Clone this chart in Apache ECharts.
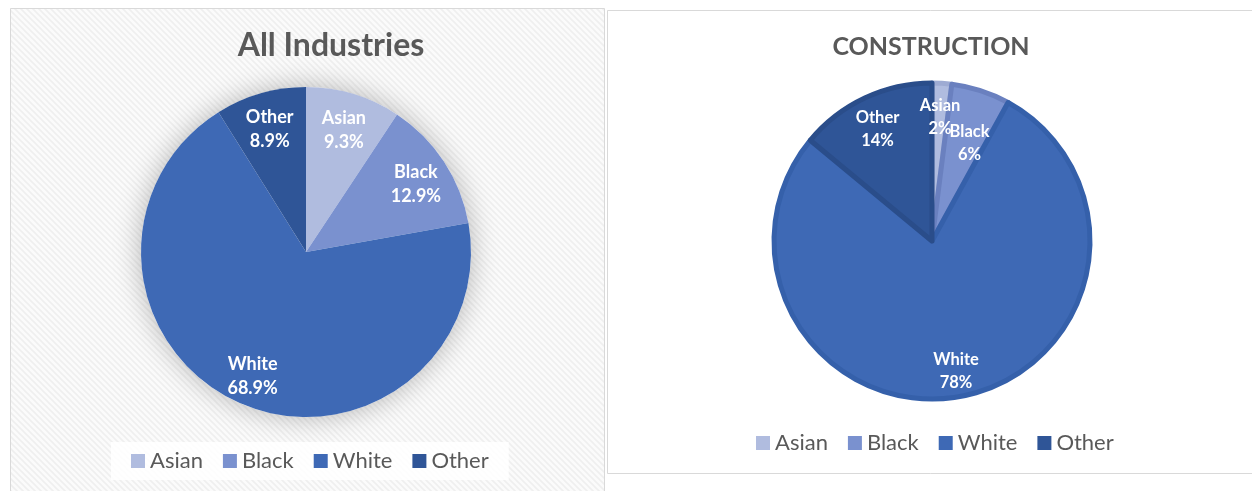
<!DOCTYPE html>
<html>
<head>
<meta charset="utf-8">
<script src="https://cdn.jsdelivr.net/npm/echarts@6/dist/echarts.min.js"></script>
<style>
  html, body { margin: 0; padding: 0; background: #ffffff; }
  #chart { width: 1252px; height: 491px; }
</style>
</head>
<body>
<div id="chart"></div>
<script>
// Workforce share by race: all industries vs. construction
const categories = ['Asian', 'Black', 'White', 'Other'];
const allIndustriesShare = [9.3, 12.9, 68.9, 8.9];
const constructionShare = [2, 6, 78, 14];

const sliceColors = ['#b0bcdf', '#7a91cf', '#3e69b5', '#2f5597'];
const sliceEdges = ['#9eabd3', '#6a80bf', '#3560aa', '#2a4d8a'];
const FONT = 'Lato, "Open Sans", sans-serif';

// faint diagonal hatch used behind the left panel
function hatchPattern() {
  const c = document.createElement('canvas');
  c.width = 6; c.height = 6;
  const g = c.getContext('2d');
  g.fillStyle = '#fbfbfb';
  g.fillRect(0, 0, 6, 6);
  g.strokeStyle = '#efefef';
  g.lineWidth = 1.6;
  g.beginPath();
  g.moveTo(-1, -1); g.lineTo(7, 7);
  g.moveTo(-1, 5); g.lineTo(1, 7);
  g.moveTo(5, -1); g.lineTo(7, 1);
  g.stroke();
  return { image: c, repeat: 'repeat' };
}

function pieData(values, edges) {
  return categories.map((name, i) => ({
    name,
    value: values[i],
    itemStyle: edges
      ? { color: sliceColors[i], borderColor: edges[i], borderWidth: 5, borderJoin: 'round' }
      : { color: sliceColors[i] }
  }));
}

// transparent ring that only carries the slice labels, so they sit
// about three quarters of the way out from the centre
function labelRing(center, inner, outer, values, fmt, size, lh, tweak) {
  return {
    type: 'pie',
    center, radius: [inner, outer],
    startAngle: 90, clockwise: true,
    silent: true, z: 5,
    avoidLabelOverlap: false,
    labelLayout: { hideOverlap: false },
    emphasis: { disabled: true },
    itemStyle: { color: 'rgba(0,0,0,0)' },
    labelLine: { show: false },
    label: {
      show: true,
      position: 'inside',
      color: '#ffffff',
      fontFamily: FONT,
      fontWeight: 'bold',
      fontSize: size,
      lineHeight: lh,
      offset: [0, 4],
      formatter: fmt
    },
    data: categories.map((name, i) => {
      const item = { name, value: values[i] };
      if (tweak && tweak[i]) item.label = tweak[i];
      return item;
    })
  };
}

const chart = echarts.init(document.getElementById('chart'), null, { renderer: 'canvas' });

chart.setOption({
  animation: false,
  graphic: [
    {
      type: 'rect', z: -10, silent: true,
      shape: { x: 10.5, y: 8.5, width: 594, height: 490 },
      style: { fill: hatchPattern(), stroke: '#d9d9d9', lineWidth: 1 }
    },
    {
      type: 'rect', z: -10, silent: true,
      shape: { x: 607.5, y: 10.5, width: 660, height: 463 },
      style: { fill: '#ffffff', stroke: '#d9d9d9', lineWidth: 1 }
    }
  ],
  title: [
    {
      text: 'All Industries', left: 326, top: 25, textAlign: 'center',
      textStyle: { fontFamily: FONT, fontWeight: 'bold', fontSize: 32, color: '#595959' }
    },
    {
      text: 'CONSTRUCTION', left: 926, top: 29, textAlign: 'center',
      textStyle: { fontFamily: FONT, fontWeight: 'bold', fontSize: 25, color: '#595959' }
    }
  ],
  legend: [
    {
      data: categories, left: 111, top: 442, width: 391,
      padding: [8, 20, 8, 20], itemGap: 20, itemWidth: 14, itemHeight: 14,
      icon: 'rect', selectedMode: false,
      backgroundColor: 'rgba(255,255,255,0.85)',
      textStyle: { fontFamily: FONT, fontSize: 22, color: '#595959' }
    },
    {
      data: categories, left: 751, top: 427, itemGap: 20, itemWidth: 14, itemHeight: 14,
      icon: 'rect', selectedMode: false,
      textStyle: { fontFamily: FONT, fontSize: 22, color: '#595959' }
    }
  ],
  series: [
    {
      // All industries
      type: 'pie', center: [306, 252], radius: [0, 165],
      startAngle: 90, clockwise: true, z: 2,
      emphasis: { disabled: true },
      label: { show: false }, labelLine: { show: false },
      data: pieData(allIndustriesShare, null)
    },
    {
      // Construction
      type: 'pie', center: [932, 241], radius: [0, 158],
      startAngle: 90, clockwise: true, z: 2,
      emphasis: { disabled: true },
      label: { show: false }, labelLine: { show: false },
      data: pieData(constructionShare, sliceEdges)
    },
    {
      // soft halo under the left pie
      type: 'pie', center: [306, 252], radius: [0, 165],
      silent: true, z: 1,
      emphasis: { disabled: true },
      label: { show: false }, labelLine: { show: false },
      itemStyle: { color: '#ffffff', shadowBlur: 28, shadowColor: 'rgba(0,0,0,0.28)' },
      data: [{ value: 1, name: '' }]
    },
    labelRing([306, 252], 102, 155, allIndustriesShare,
      p => p.name + '\n' + p.value.toFixed(1) + '%', 18, 24),
    labelRing([932, 241], 100, 150, constructionShare,
      p => p.name + '\n' + p.value + '%', 16.5, 23,
      [null, { offset: [-2, 24] }, null, null])
  ]
});
</script>
</body>
</html>
